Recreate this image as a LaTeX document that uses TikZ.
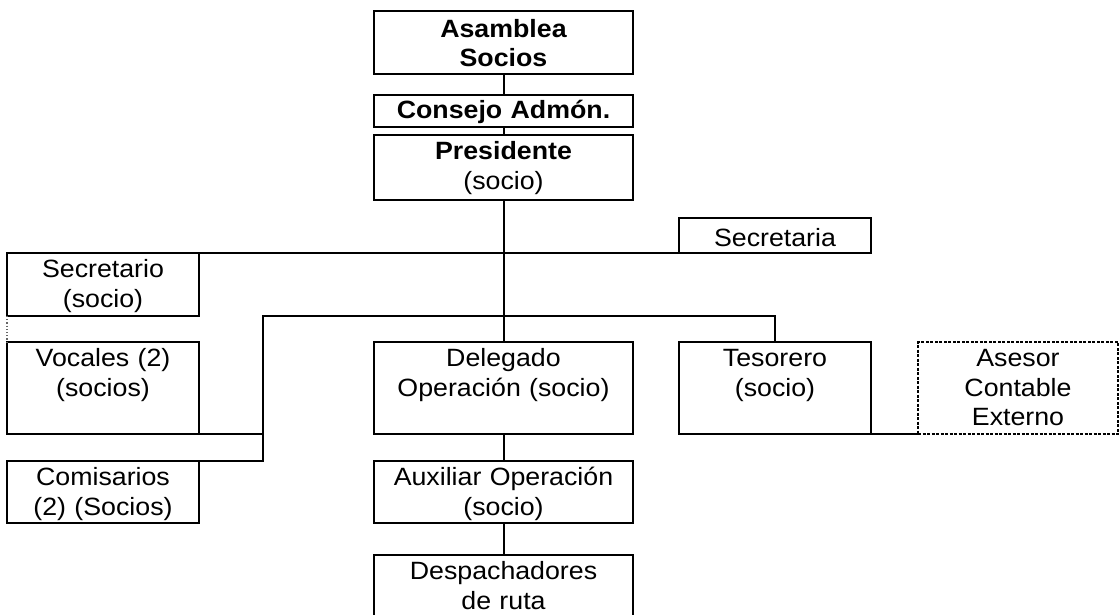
\documentclass[tikz,border=0pt]{standalone}
\usepackage{fontspec}
\setmainfont[FakeStretch=1.07]{Liberation Sans}
\tikzset{
  box/.style={draw, line width=2pt, inner sep=0pt, outer sep=0pt, anchor=north west, align=center,
    text height=24.5pt, font=\fontsize{25}{29.5}\selectfont},
  extbox/.style={box, line width=1.6pt, dash pattern=on 3pt off 1.5pt},
  conn/.style={line width=2pt},
  weak/.style={black!60, dotted, line width=1.2pt},
}
\begin{document}
\begin{tikzpicture}[x=1pt, y=-1pt]
\useasboundingbox (0,0) rectangle (1120,614);
% centre column
\node[box, text width=259pt, text height=26pt, text depth=37pt] (asam) at (374,11) {\bfseries Asamblea\\\bfseries Socios};
\node[box, text width=259pt, text height=23.5pt, text depth=8.5pt] (cons) at (374,95) {\bfseries Consejo Admón.};
\node[box, text width=259pt, text depth=40.5pt] (pres) at (374,135) {{\bfseries Presidente}\\(socio)};
\node[box, text width=259pt, text depth=67.5pt] (dele) at (374,342) {Delegado\\Operación (socio)};
\node[box, text width=259pt, text depth=37.5pt] (aux) at (374,461) {Auxiliar Operación\\(socio)};
\node[box, text width=259pt, text depth=40.5pt] (desp) at (374,555) {Despachadores\\de ruta};
% right
\node[box, text width=192pt, text height=28pt, text depth=7pt] (secta) at (679,218) {Secretaria};
\node[box, text width=192pt, text depth=67.5pt] (teso) at (679,342) {Tesorero\\(socio)};
\node[extbox, text width=200pt, text depth=67.5pt] (ases) at (918,342) {Asesor\\Contable\\Externo};
% left
\node[box, text width=192pt, text depth=38.5pt] (secr) at (7,253) {Secretario\\(socio)};
\node[box, text width=192pt, text depth=67.5pt] (voc) at (7,342) {Vocales (2)\\(socios)};
\node[box, text width=192pt, text depth=37.5pt] (comi) at (7,461) {Comisarios\\(2) (Socios)};
% junctions
\coordinate (jt) at (263,316);
\coordinate (jb) at (263,461);
% connectors
\draw[conn] (asam.south) -- (cons.north);
\draw[conn] (cons.south) -- (pres.north);
\draw[conn] (pres.south) -- (dele.north);
\draw[conn] (dele.south) -- (aux.north);
\draw[conn] (aux.south) -- (desp.north);
\draw[conn] (secr.north east) -- (secta.south west);
\draw[conn] (teso.north) |- (jt) -- (jb) -- (comi.north east);
\draw[conn] (voc.south east) -- (voc.south east -| jt);
\draw[conn] (teso.south east) -- (ases.south west);
\draw[weak] (secr.south west) -- (voc.north west);
\end{tikzpicture}
\end{document}
